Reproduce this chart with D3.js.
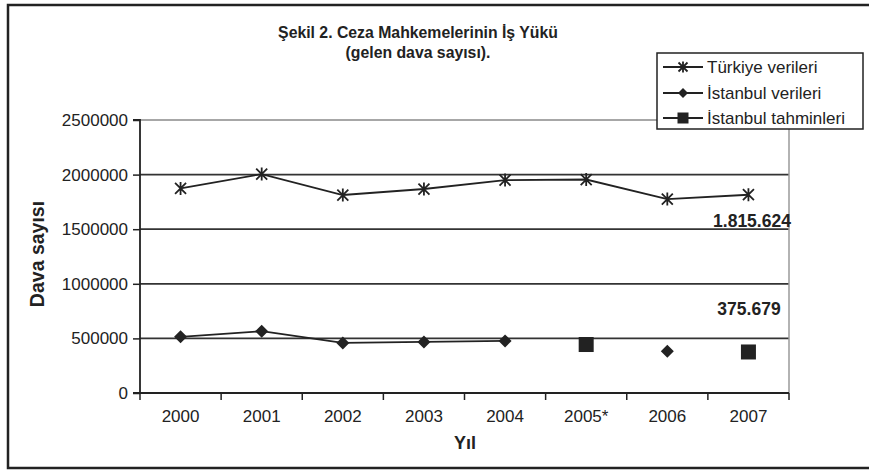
<!DOCTYPE html>
<html><head><meta charset="utf-8">
<script src="https://cdn.jsdelivr.net/npm/d3@7"></script>
<style>body{margin:0;background:#fff;}svg{display:block;font-family:"Liberation Sans",Arial,sans-serif;}</style>
</head><body>
<svg id="c" width="869" height="471"></svg>
<script>
const years = ["2000","2001","2002","2003","2004","2005*","2006","2007"];
const turkiye = [1873000, 2005000, 1813000, 1868000, 1950000, 1955000, 1776000, 1815624];
const istanbul = [514000, 566000, 459000, 468000, 477000, null, 383000, null];
const tahmin = [null, null, null, null, null, 444000, null, 375679];
const yTicks = [0, 500000, 1000000, 1500000, 2000000, 2500000];
const seriesNames = ["Türkiye verileri", "İstanbul verileri", "İstanbul tahminleri"];
const titleLines = ["Şekil 2. Ceza Mahkemelerinin İş Yükü", "(gelen dava sayısı)."];
const annotations = [{text:"1.815.624", year:"2007", value:1815624}, {text:"375.679", year:"2007", value:375679}];

const svg = d3.select("#c");
const ink = "#222";
const L = 140, R = 789, T = 120, B = 393;
const x = d3.scaleBand().domain(years).range([L, R]);
const y = d3.scaleLinear().domain([0, 2500000]).range([B, T]);
const cx = d => x(d) + x.bandwidth()/2;

// outer frame
svg.append("path").attr("d", `M${875},5 H8 V468 H875`).attr("fill","none").attr("stroke",ink).attr("stroke-width",2.5);

// gridlines
svg.append("g").selectAll("line").data(yTicks.filter(v=>v>0)).join("line")
  .attr("x1", L).attr("x2", R).attr("y1", d=>y(d)).attr("y2", d=>y(d))
  .attr("stroke", d => d===2500000 ? "#8a8a8a" : "#333").attr("stroke-width", d => d===2500000 ? 1.5 : 1.8);
// right border
svg.append("line").attr("x1",R).attr("x2",R).attr("y1",T).attr("y2",B).attr("stroke","#9a9a9a").attr("stroke-width",1.5);

// axes
const yAxis = d3.axisLeft(y).tickValues(yTicks).tickSize(7).tickPadding(5).tickFormat(d3.format("d"));
const gy = svg.append("g").attr("transform",`translate(${L},0)`).call(yAxis);
gy.select(".domain").attr("stroke",ink).attr("stroke-width",1.8).attr("d",`M-7,${T}H0V${B}H-7`);
gy.selectAll(".tick line").attr("stroke",ink).attr("stroke-width",1.5);
gy.selectAll("text").attr("font-size",17).attr("fill",ink).attr("font-family","Liberation Sans, Arial, sans-serif");

const xAxis = d3.axisBottom(x).tickSize(0).tickPadding(17);
const gx = svg.append("g").attr("transform",`translate(0,${B})`).call(xAxis);
gx.select(".domain").attr("stroke",ink).attr("stroke-width",1.8).attr("d",`M${L},0H${R}`);
gx.selectAll("text").attr("font-size",17).attr("fill",ink).attr("font-family","Liberation Sans, Arial, sans-serif");
svg.append("g").selectAll("line").data(years.concat(["end"])).join("line")
  .attr("x1", (d,i)=> i<years.length ? x(d) : R).attr("x2",(d,i)=> i<years.length ? x(d) : R)
  .attr("y1", B).attr("y2", B+7).attr("stroke",ink).attr("stroke-width",1.5);

// lines
const line = d3.line().defined(d=>d[1]!=null).x(d=>cx(d[0])).y(d=>y(d[1]));
svg.append("path").datum(years.map((yr,i)=>[yr,turkiye[i]])).attr("d",line).attr("fill","none").attr("stroke",ink).attr("stroke-width",1.8);
svg.append("path").datum(years.map((yr,i)=>[yr,istanbul[i]]).slice(0,5)).attr("d",line).attr("fill","none").attr("stroke",ink).attr("stroke-width",1.8);

function star(g, px, py, s){
  const h=s/2;
  g.append("path").attr("d",`M${px-h},${py-h}L${px+h},${py+h}M${px-h},${py+h}L${px+h},${py-h}M${px},${py-h-1}V${py+h+1}`)
   .attr("stroke",ink).attr("stroke-width",1.8).attr("fill","none");
}
function diamond(g, px, py, s){
  const h=s/2;
  g.append("path").attr("d",`M${px},${py-h}L${px+h},${py}L${px},${py+h}L${px-h},${py}Z`).attr("fill",ink);
}
function square(g, px, py, s){
  g.append("rect").attr("x",px-s/2).attr("y",py-s/2).attr("width",s).attr("height",s).attr("fill",ink);
}
const mk = svg.append("g");
years.forEach((yr,i)=>{
  star(mk, cx(yr), y(turkiye[i]), 11);
  if(istanbul[i]!=null) diamond(mk, cx(yr), y(istanbul[i]), 13);
  if(tahmin[i]!=null) square(mk, cx(yr), y(tahmin[i]), 15);
});

// annotations
svg.append("text").attr("x",752).attr("y",y(annotations[0].value)+32).attr("text-anchor","middle")
  .attr("font-size",17.5).attr("font-weight","bold").attr("fill",ink).text(annotations[0].text);
svg.append("text").attr("x",749).attr("y",y(annotations[1].value)-37).attr("text-anchor","middle")
  .attr("font-size",17.5).attr("font-weight","bold").attr("fill",ink).text(annotations[1].text);

// title
svg.append("g").selectAll("text").data(titleLines).join("text")
  .attr("x",418).attr("y",(d,i)=>38+i*20).attr("text-anchor","middle")
  .attr("font-size",15.8).attr("font-weight","bold").attr("fill",ink).text(d=>d);

// axis titles
svg.append("text").attr("transform","translate(44,254) rotate(-90)").attr("text-anchor","middle")
  .attr("font-size",19.5).attr("font-weight","bold").attr("fill",ink).text("Dava sayısı");
svg.append("text").attr("x",465).attr("y",449).attr("text-anchor","middle")
  .attr("font-size",18).attr("font-weight","bold").attr("fill",ink).text("Yıl");

// legend
const lg = svg.append("g");
lg.append("rect").attr("x",657).attr("y",53).attr("width",206).attr("height",76).attr("fill","#fff").attr("stroke",ink).attr("stroke-width",1.5);
const rowsY = [67, 93, 118];
seriesNames.forEach((n,i)=>{
  const ry = rowsY[i];
  lg.append("line").attr("x1",663).attr("x2",703).attr("y1",ry).attr("y2",ry).attr("stroke",ink).attr("stroke-width",1.8);
  if(i===0) star(lg,683,ry,9);
  if(i===1) diamond(lg,683,ry,10);
  if(i===2) square(lg,683,ry,11);
  lg.append("text").attr("x",707).attr("y",ry+6).attr("font-size",17).attr("fill",ink).text(n);
});
</script>
</body></html>
